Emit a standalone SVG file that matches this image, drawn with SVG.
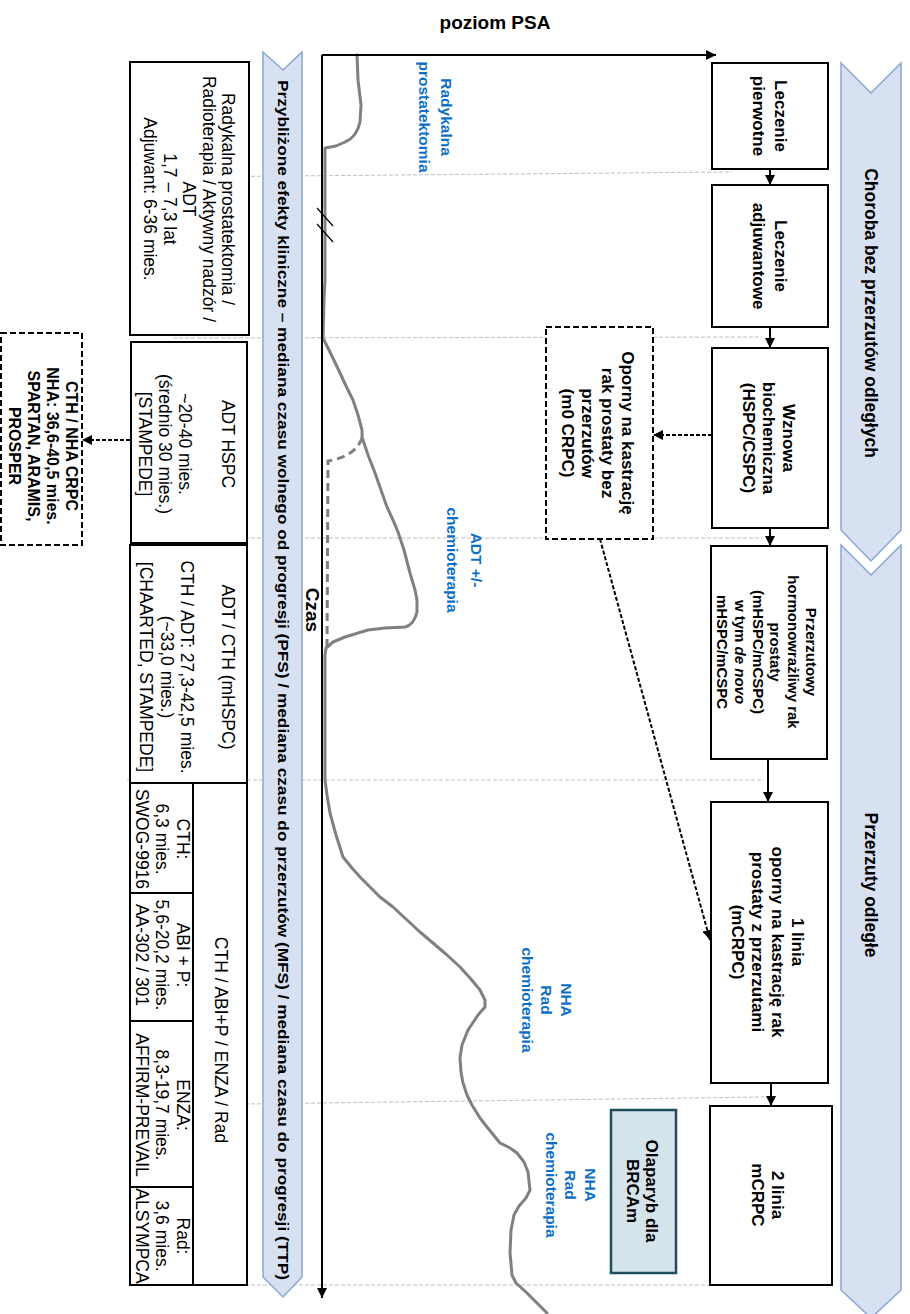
<svg xmlns="http://www.w3.org/2000/svg" width="910" height="1314" viewBox="0 0 910 1314">
<defs>
<marker id="ah" viewBox="0 0 10 10" refX="10" refY="5" markerWidth="10" markerHeight="10" markerUnits="userSpaceOnUse" orient="auto"><path d="M0,0 L10,5 L0,10 Z" fill="#000"/></marker>
<style>
.bx{fill:#fff;stroke:#000;stroke-width:2}
.db{fill:#fff;stroke:#000;stroke-width:2;stroke-dasharray:6 3}
.ol{fill:#D5E3EB;stroke:#1F4E5F;stroke-width:2.5}
.band{fill:#D7E1F2;stroke:#8AA6D3;stroke-width:1.5}
.grid{stroke:#C0C0C0;stroke-width:1;stroke-dasharray:4 2;fill:none}
.psa{fill:none;stroke:#808080;stroke-width:3;stroke-linejoin:round;stroke-linecap:round}
.psad{fill:none;stroke:#808080;stroke-width:3;stroke-dasharray:8 5}
.ax{stroke:#000;stroke-width:2;fill:none}
.fl{stroke:#000;stroke-width:2;fill:none}
.dl{stroke:#000;stroke-width:2;fill:none;stroke-dasharray:4 2}
text{font-family:"Liberation Sans",Arial,sans-serif;text-anchor:middle;dominant-baseline:central;fill:#000}
.b{font-weight:bold}
.rb{font-weight:bold;font-size:17px}
.lb{font-size:17.5px}
.blue{fill:#0B6FC6;font-weight:bold;font-size:15.5px}
.bt{font-weight:bold;font-size:17.5px}
</style>
</defs>

<g id="grid">
<line class="grid" x1="173" y1="177" x2="732" y2="172"/>
<line class="grid" x1="173" y1="338" x2="762" y2="337"/>
<line class="grid" x1="173" y1="538" x2="762" y2="538"/>
<line class="grid" x1="127" y1="780" x2="764" y2="780"/>
<line class="grid" x1="173" y1="1105" x2="764" y2="1097"/>
<line class="grid" x1="173" y1="1285" x2="712" y2="1285"/>
</g>

<text class="b" x="495" y="22" font-size="19">poziom PSA</text>

<g id="band-choroba">
<path class="band" d="M841,63 L871,93 L901,63 L901,530 L871,561 L841,530 Z"/>
<text class="bt" transform="translate(871,313) rotate(90)">Choroba bez przerzutów odległych</text>
</g>
<g id="band-przerzuty">
<path class="band" d="M841,545 L871,575 L901,545 L901,1290 L871,1318 L841,1290 Z"/>
<text class="bt" transform="translate(871,885) rotate(90)">Przerzuty odległe</text>
</g>
<g id="band-efekty">
<path class="band" d="M263,52 L283,70 L302,52 L302,1277 L283,1297 L263,1277 Z"/>
<text class="b" font-size="15" textLength="1200" lengthAdjust="spacingAndGlyphs" transform="translate(283,680) rotate(90)">Przybliżone efekty kliniczne – mediana czasu wolnego od progresji (PFS)  / mediana czasu do przerzutów (MFS) / mediana czasu do progresji (TTP)</text>
</g>

<g id="chart">
<path class="psa" d="M357,55 L358,80 L361,105 L360,122 Q357,137 345,142 L336,146 L325,148 L325,280 L324,300 L323,338 L330,352 L340,373 L347,388 L353,400 L358,415 L362,430 L362,437 L368,455 L375,473 L381,490 L387,507 L393,520 L398,532 L404,550 L410,573 L415,590 L417,600 L417,612 Q414,625 405,627 L385,628 L368,630 L345,637 L333,642 L326,648 L325,655 L325,780 L327,795 L330,813 L336,835 L343,857 L352,868 L360,877 L370,887 L380,897 L393,907 L407,920 L420,932 L433,943 L447,955 L460,967 L470,978 L480,990 L485,1000 L485,1007 L478,1015 L468,1030 L462,1045 L460,1058 L461,1072 L463,1083 L467,1095 L472,1105 L480,1118 L487,1127 L500,1143 L510,1148 L517,1153 L524,1162 L528,1172 L530,1190 L526,1198 L519,1206 L514,1215 L511,1230 L510,1253 L512,1275 L516,1283 L527,1293 L537,1303 L547,1313"/>
<path class="psad" d="M362,438 Q356,456 328,461 L327,650"/>
<line class="ax" x1="322" y1="55" x2="716" y2="55" marker-end="url(#ah)"/>
<line class="ax" x1="322" y1="55" x2="322" y2="1298" marker-end="url(#ah)"/>
<line x1="317" y1="208" x2="333" y2="226" stroke="#000" stroke-width="1.2"/>
<line x1="317" y1="224" x2="333" y2="242" stroke="#000" stroke-width="1.2"/>
<text class="b" font-size="19" transform="translate(312,610) rotate(90)">Czas</text>
<text class="blue" transform="translate(436,117) rotate(90)"><tspan x="0" y="-11">Radykalna</tspan><tspan x="0" y="11">prostatektomia</tspan></text>
<text class="blue" transform="translate(465,560) rotate(90)"><tspan x="0" y="-12">ADT +/-</tspan><tspan x="0" y="12">chemioterapia</tspan></text>
<text class="blue" transform="translate(547,1000) rotate(90)"><tspan x="0" y="-20">NHA</tspan><tspan x="0" y="0">Rad</tspan><tspan x="0" y="19">chemioterapia</tspan></text>
<text class="blue" transform="translate(571,1185) rotate(90)"><tspan x="0" y="-20">NHA</tspan><tspan x="0" y="0">Rad</tspan><tspan x="0" y="19">chemioterapia</tspan></text>
</g>

<g id="n-leczenie-pierwotne">
<rect class="bx" x="712" y="63" width="116" height="106"/>
<text class="rb" transform="translate(770,116) rotate(90)"><tspan x="0" y="-11">Leczenie</tspan><tspan x="0" y="11">pierwotne</tspan></text>
</g>
<g id="n-leczenie-adjuwantowe">
<rect class="bx" x="712" y="185" width="116" height="142"/>
<text class="rb" transform="translate(770,256) rotate(90)"><tspan x="0" y="-11">Leczenie</tspan><tspan x="0" y="11">adjuwantowe</tspan></text>
</g>
<g id="n-wznowa">
<rect class="bx" x="712" y="348" width="116" height="180"/>
<text class="rb" transform="translate(769,438) rotate(90)"><tspan x="0" y="-20">Wznowa</tspan><tspan x="0" y="0">biochemiczna</tspan><tspan x="0" y="20">(HSPC/CSPC)</tspan></text>
</g>
<g id="n-mhspc">
<rect class="bx" x="711" y="546" width="116" height="213"/>
<text class="b" font-size="15" transform="translate(769,652) rotate(90)"><tspan x="0" y="-43">Przerzutowy</tspan><tspan x="0" y="-25.2">hormonowrażliwy rak</tspan><tspan x="0" y="-7.4">prostaty</tspan><tspan x="0" y="10.4">(mHSPC/mCSPC)</tspan><tspan x="0" y="28.2">w tym <tspan font-style="italic">de novo</tspan></tspan><tspan x="0" y="46">mHSPC/mCSPC</tspan></text>
</g>
<g id="n-1linia">
<rect class="bx" x="711" y="802" width="117" height="281"/>
<text class="rb" transform="translate(769,942) rotate(90)"><tspan x="0" y="-29">1 linia</tspan><tspan x="0" y="-9">oporny na kastrację rak</tspan><tspan x="0" y="11">prostaty z przerzutami</tspan><tspan x="0" y="31">(mCRPC)</tspan></text>
</g>
<g id="n-2linia">
<rect class="bx" x="710" y="1106" width="122" height="179"/>
<text class="rb" transform="translate(769,1195) rotate(90)"><tspan x="0" y="-9">2 linia</tspan><tspan x="0" y="11">mCRPC</tspan></text>
</g>
<g id="n-m0crpc">
<rect class="db" x="546" y="327" width="107" height="212"/>
<text class="rb" transform="translate(599,433) rotate(90)"><tspan x="0" y="-29">Oporny na kastrację</tspan><tspan x="0" y="-9">rak prostaty bez</tspan><tspan x="0" y="11">przerzutów</tspan><tspan x="0" y="31">(m0 CRPC)</tspan></text>
</g>
<g id="n-olaparyb">
<rect class="ol" x="611" y="1110" width="65" height="163"/>
<text class="rb" transform="translate(643,1191) rotate(90)"><tspan x="0" y="-9">Olaparyb dla</tspan><tspan x="0" y="10">BRCAm</tspan></text>
</g>

<g id="n-radykalna">
<rect class="bx" x="130" y="62" width="119" height="273"/>
<text class="lb" transform="translate(189,199) rotate(90)"><tspan x="0" y="-39">Radykalna prostatektomia /</tspan><tspan x="0" y="-19.5">Radioterapia / Aktywny nadzór /</tspan><tspan x="0" y="0">ADT</tspan><tspan x="0" y="19.5">1,7 – 7,3 lat</tspan><tspan x="0" y="39">Adjuwant: 6-36 mies.</tspan></text>
</g>
<g id="n-adt-hspc">
<rect class="bx" x="131" y="342" width="116" height="201"/>
<text class="lb" transform="translate(187,444) rotate(90)"><tspan x="0" y="-41">ADT HSPC</tspan><tspan x="0" y="2">~20-40 mies.</tspan><tspan x="0" y="22">(średnio 30 mies.)</tspan><tspan x="0" y="42">[STAMPEDE]</tspan></text>
</g>
<g id="n-adt-cth">
<rect class="bx" x="130" y="545" width="117" height="238"/>
<text class="lb" transform="translate(187,667) rotate(90)"><tspan x="0" y="-41">ADT / CTH (mHSPC)</tspan><tspan x="0" y="0">CTH / ADT: 27,3-42,5 mies.</tspan><tspan x="0" y="20">(~33,0 mies.)</tspan><tspan x="0" y="41">[CHAARTED, STAMPEDE]</tspan></text>
</g>
<g id="n-mcrpc-table">
<rect class="bx" x="130" y="783" width="117" height="502"/>
<line class="fl" x1="193" y1="783" x2="193" y2="1285"/>
<line class="fl" x1="130" y1="893" x2="193" y2="893"/>
<line class="fl" x1="130" y1="1021" x2="193" y2="1021"/>
<line class="fl" x1="130" y1="1187" x2="193" y2="1187"/>
<text class="lb" transform="translate(221,1040) rotate(90)">CTH / ABI+P / ENZA / Rad</text>
<text class="lb" transform="translate(162,839) rotate(90)"><tspan x="0" y="-21">CTH:</tspan><tspan x="0" y="0">6,3 mies.</tspan><tspan x="0" y="20">SWOG-9916</tspan></text>
<text class="lb" transform="translate(162,955) rotate(90)"><tspan x="0" y="-21">ABI + P:</tspan><tspan x="0" y="0">5,6-20,2 mies.</tspan><tspan x="0" y="20">AA-302 / 301</tspan></text>
<text class="lb" transform="translate(162,1105) rotate(90)"><tspan x="0" y="-21">ENZA:</tspan><tspan x="0" y="0">8,3-19,7 mies.</tspan><tspan x="0" y="20">AFFIRM-PREVAIL</tspan></text>
<text class="lb" transform="translate(162,1236) rotate(90)"><tspan x="0" y="-21">Rad:</tspan><tspan x="0" y="0">3,6 mies.</tspan><tspan x="0" y="20">ALSYMPCA</tspan></text>
</g>
<g id="n-cth-nha">
<rect class="db" x="1" y="333" width="81" height="212"/>
<text class="b" font-size="16" transform="translate(44,446) rotate(90)"><tspan x="0" y="-28">CTH / NHA CRPC</tspan><tspan x="0" y="-9">NHA: 36,6-40,5 mies.</tspan><tspan x="0" y="10">SPARTAN, ARAMIS,</tspan><tspan x="0" y="29">PROSPER</tspan></text>
</g>

<g id="connectors">
<line class="fl" x1="770" y1="169" x2="770" y2="185" marker-end="url(#ah)"/>
<line class="fl" x1="770" y1="327" x2="770" y2="348" marker-end="url(#ah)"/>
<line class="fl" x1="770" y1="528" x2="770" y2="546" marker-end="url(#ah)"/>
<line class="fl" x1="768" y1="759" x2="768" y2="802" marker-end="url(#ah)"/>
<line class="fl" x1="771" y1="1083" x2="771" y2="1106" marker-end="url(#ah)"/>
<line class="dl" x1="712" y1="435" x2="653" y2="435" marker-end="url(#ah)"/>
<line class="dl" x1="600" y1="539" x2="710" y2="940" marker-end="url(#ah)"/>
<line class="dl" x1="130" y1="440" x2="82" y2="440" marker-end="url(#ah)"/>
</g>
</svg>
